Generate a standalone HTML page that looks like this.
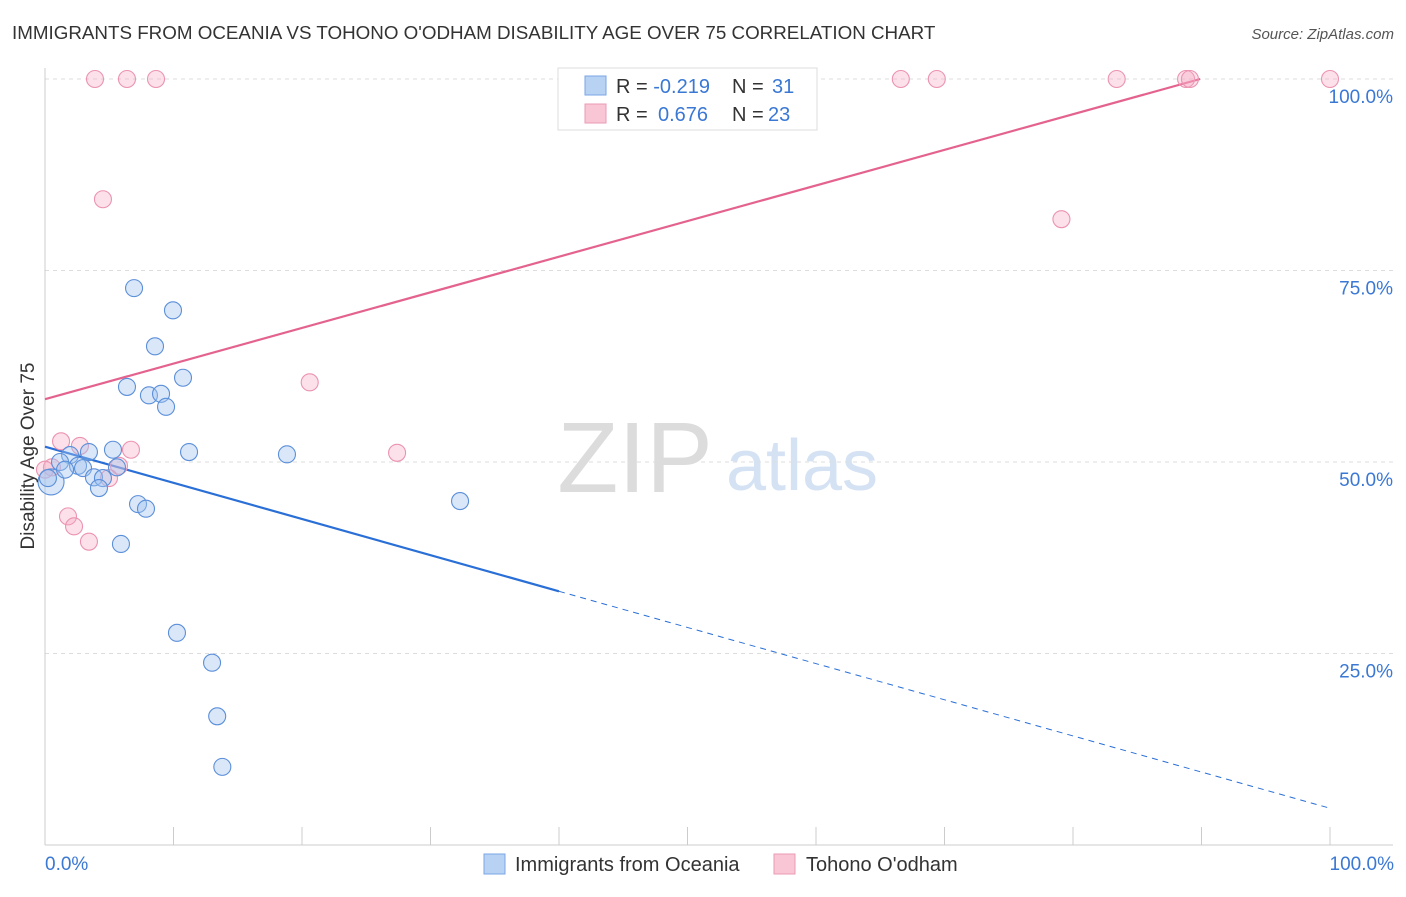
<!DOCTYPE html>
<html><head><meta charset="utf-8"><style>
body{margin:0;background:#fff;font-family:"Liberation Sans",sans-serif;}
svg text{font-family:"Liberation Sans",sans-serif;}
</style></head><body>
<svg width="1406" height="892" viewBox="0 0 1406 892">
<text x="12" y="39" font-size="18.8" fill="#333">IMMIGRANTS FROM OCEANIA VS TOHONO O'ODHAM DISABILITY AGE OVER 75 CORRELATION CHART</text>
<text x="1394" y="39" font-size="15" fill="#555" font-style="italic" text-anchor="end">Source: ZipAtlas.com</text>
<g>
<text x="635" y="492" font-size="100" fill="#dcdcdc" font-family="Liberation Serif,serif" text-anchor="middle">ZIP</text>
<text x="802" y="490" font-size="72" fill="#d4e2f4" text-anchor="middle">atlas</text>
</g>
<g id="grid"></g>
<g id="axes"></g>
<g id="lines"></g>
<g id="pts"></g>
<text transform="translate(34,456) rotate(-90)" font-size="19" fill="#333" text-anchor="middle">Disability Age Over 75</text>
<text x="45" y="870" font-size="19" fill="#3a78d4">0.0%</text>
<text x="1394" y="870" font-size="19" fill="#3a78d4" text-anchor="end">100.0%</text>
<g>
<rect x="558" y="68" width="259" height="62" fill="#fff" stroke="#ddd"/>
<rect x="585" y="76" width="21" height="19" fill="#b8d2f4" stroke="#7aa6e4"/>
<rect x="585" y="104" width="21" height="19" fill="#f9c6d5" stroke="#eb9bb4"/>
<text x="616" y="93" font-size="20" fill="#333">R = <tspan fill="#3a78d4">-0.219</tspan><tspan x="732">N = </tspan><tspan x="772" fill="#3a78d4">31</tspan></text>
<text x="616" y="121" font-size="20" fill="#333">R = <tspan x="658" fill="#3a78d4">0.676</tspan><tspan x="732">N = </tspan><tspan x="768" fill="#3a78d4">23</tspan></text>
</g>
<g>
<rect x="484" y="854" width="21" height="20" fill="#b8d2f4" stroke="#7aa6e4"/>
<text x="515" y="871" font-size="20" fill="#333">Immigrants from Oceania</text>
<rect x="774" y="854" width="21" height="20" fill="#f9c6d5" stroke="#eb9bb4"/>
<text x="806" y="871" font-size="20" fill="#333">Tohono O'odham</text>
</g>
</svg>
<script>
const blueX=[6.93,9.96,8.56,10.74,6.38,8.09,9.03,9.42,5.29,11.21,18.83,3.42,1.95,1.17,2.57,2.96,5.60,3.81,4.51,4.20,0.47,7.24,7.86,32.3,5.91,10.27,13.0,13.4,13.8,0.23,1.56];
const blueY=[72.7,69.8,65.1,61.0,59.8,58.7,58.9,57.2,51.6,51.3,51.0,51.3,50.9,50.0,49.5,49.2,49.3,48.0,47.9,46.6,47.4,44.5,43.9,44.9,39.3,27.7,23.8,16.8,10.2,47.9,49.0];
const pinkX=[3.89,6.38,8.64,66.6,69.4,83.4,88.8,89.1,100,4.51,79.1,20.6,27.4,1.25,2.72,6.69,5.76,4.98,0.54,0,1.79,2.26,3.42];
const pinkY=[100,100,100,100,100,100,100,100,100,84.3,81.7,60.4,51.2,52.7,52.1,51.6,49.5,47.9,49.3,49.0,42.9,41.6,39.6];
const blueTrend=[52.0,4.8];
const pinkTrend=[58.2,104.7];
const yTicks=[25,50,75,100];
const yTickLabels=["25.0%","50.0%","75.0%","100.0%"];
const xTicks=[0,10,20,30,40,50,60,70,80,90,100];
const NS="http://www.w3.org/2000/svg";
const sx=v=>45+v*12.85, sy=v=>845-v*7.66;
function mk(p,t,a){const e=document.createElementNS(NS,t);for(const k in a)e.setAttribute(k,a[k]);p.appendChild(e);return e;}
const grid=document.getElementById('grid'),axes=document.getElementById('axes'),lines=document.getElementById('lines'),pts=document.getElementById('pts');
yTicks.forEach((t,i)=>{
const g=mk(grid,'line',{x1:45,x2:1393,y1:sy(t),y2:sy(t),stroke:'#ddd','stroke-dasharray':'4,4'});


const l=mk(axes,'text',{x:1393,y:sy(t)+24,'font-size':19,fill:'#3a78d4','text-anchor':'end'});
l.textContent=yTickLabels[i];


});
mk(axes,'line',{x1:45,x2:45,y1:68,y2:845,stroke:'#ccc'});
mk(axes,'line',{x1:45,x2:1393,y1:845,y2:845,stroke:'#ccc'});
xTicks.forEach(t=>{
const k=mk(axes,'line',{x1:sx(t),x2:sx(t),y1:827,y2:845,stroke:'#ccc'});


});
const by=x=>blueTrend[0]+(blueTrend[1]-blueTrend[0])*x/100;
const b1=mk(lines,'line',{x1:sx(0),y1:sy(by(0)),x2:sx(40),y2:sy(by(40)),stroke:'#2a6fd6','stroke-width':2.2});


const b2=mk(lines,'line',{x1:sx(40),y1:sy(by(40)),x2:sx(100),y2:sy(by(100)),stroke:'#2a6fd6','stroke-width':1,'stroke-dasharray':'6,5'});


const py=x=>pinkTrend[0]+(pinkTrend[1]-pinkTrend[0])*x/100;
const xEnd=(100-pinkTrend[0])/(pinkTrend[1]-pinkTrend[0])*100;
const p1=mk(lines,'line',{x1:sx(0),y1:sy(py(0)),x2:sx(xEnd),y2:sy(100),stroke:'#e4638e','stroke-width':2.2});


pinkX.forEach((x,i)=>{
const c=mk(pts,'circle',{cx:sx(x),cy:sy(pinkY[i]),r:8.5,fill:'rgba(246,170,196,0.35)',stroke:'#eb93b0','stroke-width':1.1});


});
blueX.forEach((x,i)=>{
const c=mk(pts,'circle',{cx:sx(x),cy:sy(blueY[i]),r:i===20?13:8.5,fill:'rgba(160,195,240,0.4)',stroke:'#5b8fd9','stroke-width':1.1});


});
</script>
</body></html>
